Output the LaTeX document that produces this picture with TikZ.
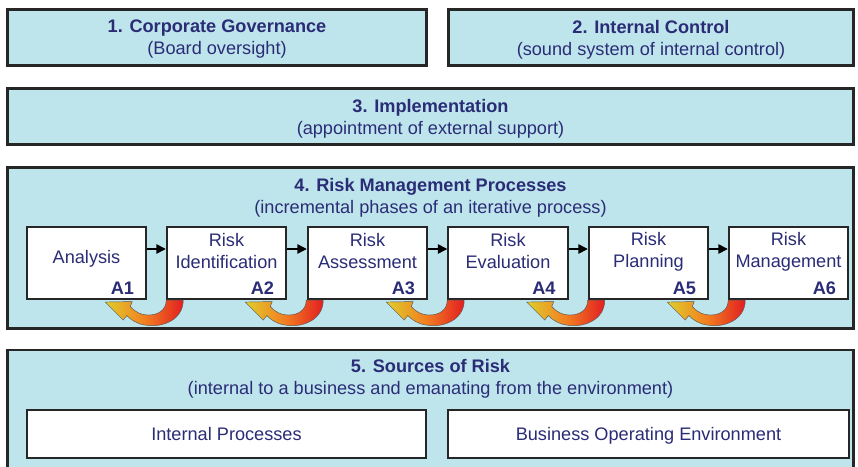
\documentclass[tikz,border=0pt]{standalone}
\usepackage{fontspec}
\setmainfont{Liberation Sans}
\usetikzlibrary{calc,arrows.meta}
\definecolor{panelblue}{RGB}{191,229,236}
\definecolor{navy}{RGB}{42,44,118}
\definecolor{tipyellow}{RGB}{222,205,45}
\definecolor{midorange}{RGB}{242,128,32}
\definecolor{loopred}{RGB}{226,30,34}
\def\loopback(#1){\begin{scope}[shift={(#1.south east)}]
	\draw[backarrow] (36,0) .. controls (36,20) and (15,28) .. (-2,25) .. controls (-10,24) and (-16,20) .. (-20.5,15.5) -- (-24,20) -- (-42,2) -- (-15,1.5) -- (-17,6.5) .. controls (-12,12) and (-6,15) .. (1,15) .. controls (11,15) and (19,10) .. (19,0) -- cycle;
	\end{scope}}
\tikzset{
	panel/.style={draw=black!85, line width=2.3pt, fill=panelblue},
	plainbox/.style={draw=black!85, line width=1.8pt, fill=white},
	stage/.style={plainbox, minimum width=3.58cm, minimum height=2.16cm},
	headtext/.style={text=navy, align=center, font=\fontsize{15.5}{18.8}\selectfont},
	tagtext/.style={text=navy, anchor=base east, font=\bfseries\fontsize{15.5}{18.8}\selectfont},
	flow/.style={line width=1.3pt, -{Triangle[length=8pt,width=8pt]}},
	backarrow/.style={draw=black!65, line width=0.4pt, left color=tipyellow, right color=loopred, middle color=midorange}
}

\begin{document}
\begin{tikzpicture}[x=0.03cm, y=-0.03cm]
	%%%%% START %%%%%
	\clip (0,0) rectangle (858,466);
	\fill[white] (0,0) rectangle (858,466);
	
	\node[panel, minimum width=12.58cm, minimum height=1.69cm] (gov) at (217,37.5) {};
	\node[headtext] (govt) at (217,39.5) {\textbf{1. Corporate Governance}\\(Board oversight)};
	\node[panel, minimum width=12.16cm, minimum height=1.69cm] (ctrl) at (651,37.5) {};
	\node[headtext] (ctrlt) at (651,39.5) {\textbf{2. Internal Control}\\(sound system of internal control)};
	
	\node[panel, minimum width=25.39cm, minimum height=1.69cm] (impl) at (430.5,116.5) {};
	\node[headtext] (implt) at (430.5,118.5) {\textbf{3. Implementation}\\(appointment of external support)};
	
	\node[panel, minimum width=25.39cm, minimum height=4.84cm] (rmp) at (430.5,248) {};
	\node[headtext] (rmpt) at (430.5,197.5) {\textbf{4. Risk Management Processes}\\(incremental phases of an iterative process)};
	
	\node[stage] (a1) at (86.5,263) {};
	\node[stage] (a2) at (226.5,263) {};
	\node[stage] (a3) at (367.5,263) {};
	\node[stage] (a4) at (508,263) {};
	\node[stage] (a5) at (648.5,263) {};
	\node[stage] (a6) at (788.5,263) {};
	
	\node[headtext] (a1n) at ($(a1.center)+(0,-4)$) {Analysis};
	\node[headtext] (a2n) at ($(a2.center)+(0,-12)$) {Risk\\Identification};
	\node[headtext] (a3n) at ($(a3.center)+(0,-12)$) {Risk\\Assessment};
	\node[headtext] (a4n) at ($(a4.center)+(0,-12)$) {Risk\\Evaluation};
	\node[headtext] (a5n) at ($(a5.center)+(0,-11)$) {Risk\\Planning};
	\node[headtext] (a6n) at ($(a6.center)+(0,-11)$) {Risk\\Management};
	
	\node[tagtext] (a1l) at ($(a1.south east)+(-9,-6)$) {A1};
	\node[tagtext] (a2l) at ($(a2.south east)+(-9,-6)$) {A2};
	\node[tagtext] (a3l) at ($(a3.south east)+(-9,-6)$) {A3};
	\node[tagtext] (a4l) at ($(a4.south east)+(-9,-6)$) {A4};
	\node[tagtext] (a5l) at ($(a5.south east)+(-9,-6)$) {A5};
	\node[tagtext] (a6l) at ($(a6.south east)+(-9,-6)$) {A6};
	
	\draw[flow] ([yshift=0.42cm]a1.east) -- ([yshift=0.42cm]a2.west);
	\draw[flow] ([yshift=0.42cm]a2.east) -- ([yshift=0.42cm]a3.west);
	\draw[flow] ([yshift=0.42cm]a3.east) -- ([yshift=0.42cm]a4.west);
	\draw[flow] ([yshift=0.42cm]a4.east) -- ([yshift=0.42cm]a5.west);
	\draw[flow] ([yshift=0.42cm]a5.east) -- ([yshift=0.42cm]a6.west);
	
	\loopback(a1)
	\loopback(a2)
	\loopback(a3)
	\loopback(a4)
	\loopback(a5)
	
	\node[panel, minimum width=25.39cm, minimum height=3.66cm] (src) at (430.5,411) {};
	\node[headtext] (srct) at (430.5,379) {\textbf{5. Sources of Risk}\\(internal to a business and emanating from the environment)};
	\node[plainbox, minimum width=11.97cm, minimum height=1.44cm] (intp) at (226.5,434) {};
	\node[headtext, anchor=base] (intpt) at (226.5,440) {Internal Processes};
	\node[plainbox, minimum width=12.03cm, minimum height=1.44cm] (benv) at (648.5,434) {};
	\node[headtext, anchor=base] (benvt) at (648.5,440) {Business Operating Environment};
	
	%%%%% END %%%%%
\end{tikzpicture}
\end{document}
